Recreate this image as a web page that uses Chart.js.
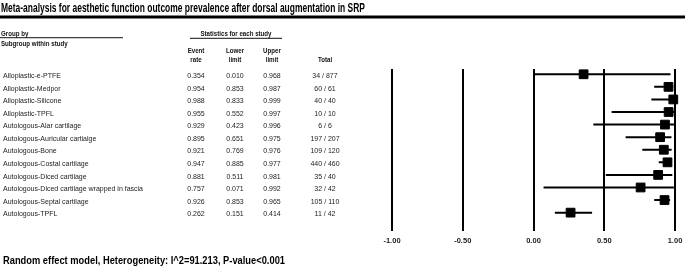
<!DOCTYPE html>
<html>
<head>
<meta charset="utf-8">
<script src="https://cdn.jsdelivr.net/npm/chart.js@4"></script>
<style>
  html, body { margin: 0; padding: 0; background: #fff; }
  #chart { display: block; }
</style>
</head>
<body>
<canvas id="chart" width="685" height="268"></canvas>
<script>
const studies = [
  'Alloplastic-e-PTFE',
  'Alloplastic-Medpor',
  'Alloplastic-Silicone',
  'Alloplastic-TPFL',
  'Autologous-Alar cartilage',
  'Autologous-Auricular cartialge',
  'Autologous-Bone',
  'Autologous-Costal cartilage',
  'Autologous-Diced cartilage',
  'Autologous-Diced cartilage wrapped in fascia',
  'Autologous-Septal cartilage',
  'Autologous-TPFL'
];
const eventRate  = [0.354, 0.954, 0.988, 0.955, 0.929, 0.895, 0.921, 0.947, 0.881, 0.757, 0.926, 0.262];
const lowerLimit = [0.010, 0.853, 0.833, 0.552, 0.423, 0.651, 0.769, 0.885, 0.511, 0.071, 0.853, 0.151];
const upperLimit = [0.968, 0.987, 0.999, 0.997, 0.996, 0.975, 0.976, 0.977, 0.981, 0.992, 0.965, 0.414];
const totals     = ['34 / 877', '60 / 61', '40 / 40', '10 / 10', '6 / 6', '197 / 207', '109 / 120',
                    '440 / 460', '35 / 40', '32 / 42', '105 / 110', '11 / 42'];
const xTicks = [-1, -0.5, 0, 0.5, 1];

const title = 'Meta-analysis for aesthetic function outcome prevalence after dorsal augmentation in SRP';
const footer = 'Random effect model, Heterogeneity: I^2=91.213, P-value<0.001';

// CI-Linien: je Studie zwei Punkte, dann eine Lücke
const ciData = [];
studies.forEach((s, i) => {
  ciData.push({ x: lowerLimit[i], y: i }, { x: upperLimit[i], y: i }, { x: null, y: i });
});

// Text zusammengedrückt zeichnen (schmale Schrift wie im Original)
function squeezed(ctx, text, x, y, sx, align) {
  ctx.save();
  ctx.translate(x, y);
  ctx.scale(sx, 1);
  ctx.textAlign = align || 'left';
  ctx.fillText(text, 0, 0);
  ctx.restore();
}
function fitScale(ctx, text, width) {
  return width / ctx.measureText(text).width;
}

const tablePlugin = {
  id: 'table',
  afterDraw(chart) {
    const ctx = chart.ctx;
    const yScale = chart.scales.y;
    ctx.save();
    ctx.fillStyle = '#000';
    ctx.textBaseline = 'alphabetic';

    // Titel
    ctx.font = 'bold 12.5px "Liberation Sans", Arial, sans-serif';
    squeezed(ctx, title, 1, 11.5, fitScale(ctx, title, 364));
    ctx.fillRect(0, 15.5, 685, 3);

    // Kopf links
    ctx.font = 'bold 7.5px "Liberation Sans", Arial, sans-serif';
    ctx.fillStyle = '#111';
    const hs = 0.82;
    squeezed(ctx, 'Group by', 1, 36, hs);
    squeezed(ctx, 'Subgroup within study', 1, 45.5, hs);
    squeezed(ctx, 'Statistics for each study', 236, 36, hs, 'center');
    squeezed(ctx, 'Event', 196, 53, hs, 'center');
    squeezed(ctx, 'rate', 196, 61.5, hs, 'center');
    squeezed(ctx, 'Lower', 235, 53, hs, 'center');
    squeezed(ctx, 'limit', 235, 61.5, hs, 'center');
    squeezed(ctx, 'Upper', 272, 53, hs, 'center');
    squeezed(ctx, 'limit', 272, 61.5, hs, 'center');
    squeezed(ctx, 'Total', 325, 61.5, hs, 'center');
    ctx.fillRect(0, 37.2, 123, 1);
    ctx.fillRect(190, 37.8, 92, 1);

    // Zeilen
    ctx.font = '8px "Liberation Sans", Arial, sans-serif';
    ctx.fillStyle = '#222';
    ctx.textBaseline = 'middle';
    const ls = fitScale(ctx, studies[9], 140);
    studies.forEach((s, i) => {
      const y = yScale.getPixelForValue(i) + 1.5;
      squeezed(ctx, s, 3, y, ls);
      squeezed(ctx, eventRate[i].toFixed(3), 196, y, ls, 'center');
      squeezed(ctx, lowerLimit[i].toFixed(3), 235, y, ls, 'center');
      squeezed(ctx, upperLimit[i].toFixed(3), 272, y, ls, 'center');
      squeezed(ctx, totals[i], 325, y, ls, 'center');
    });

    // Fusszeile
    ctx.textBaseline = 'alphabetic';
    ctx.fillStyle = '#000';
    ctx.font = 'bold 10px "Liberation Sans", Arial, sans-serif';
    squeezed(ctx, footer, 3, 264, fitScale(ctx, footer, 282));
    ctx.restore();
  }
};

new Chart(document.getElementById('chart'), {
  type: 'scatter',
  data: {
    datasets: [
      {
        label: 'CI',
        data: ciData,
        showLine: true,
        spanGaps: false,
        borderColor: '#000',
        borderWidth: 2,
        pointRadius: 0,
        clip: false
      },
      {
        label: 'Event rate',
        data: eventRate.map((v, i) => ({ x: v, y: i })),
        pointStyle: 'rect',
        pointRadius: 6.2,
        pointBackgroundColor: '#000',
        pointBorderColor: '#000',
        pointBorderWidth: 1,
        clip: false
      }
    ]
  },
  options: {
    responsive: false,
    devicePixelRatio: 1,
    animation: false,
    layout: { padding: { left: 392, right: 10, top: 69, bottom: 18 } },
    plugins: {
      legend: { display: false },
      tooltip: { enabled: false }
    },
    scales: {
      x: {
        type: 'linear',
        min: -1,
        max: 1,
        afterBuildTicks: axis => { axis.ticks = xTicks.map(v => ({ value: v })); },
        afterFit: axis => { axis.paddingLeft = 0; axis.paddingRight = 0; },
        border: { display: false },
        grid: { color: '#000', lineWidth: 2, drawTicks: false },
        ticks: {
          padding: 5,
          color: '#222',
          font: { family: '"Liberation Sans", Arial, sans-serif', size: 7.5, weight: 'bold' },
          callback: v => v.toFixed(2)
        }
      },
      y: {
        type: 'linear',
        display: false,
        reverse: true,
        min: -0.42,
        max: 12.46
      }
    }
  },
  plugins: [tablePlugin]
});
</script>
</body>
</html>
